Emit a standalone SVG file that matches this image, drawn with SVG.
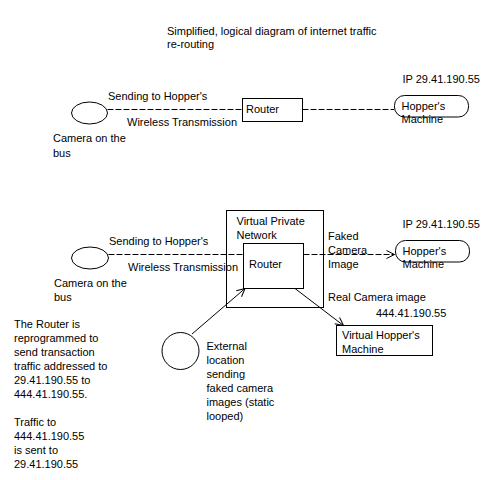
<svg xmlns="http://www.w3.org/2000/svg" width="500" height="480" viewBox="0 0 500 480">
<style>
text{font-family:"Liberation Sans",Arial,sans-serif;font-size:11px;fill:#000}
.s{fill:none;stroke:#000;stroke-width:1}
.d{fill:none;stroke:#000;stroke-width:1;stroke-dasharray:6 2}
</style>
<defs>
<marker id="a" markerWidth="10" markerHeight="10" refX="9" refY="5" orient="auto" markerUnits="userSpaceOnUse">
<path d="M1,1 L9,5 L1,9" fill="none" stroke="#000" stroke-width="1"/>
</marker>
</defs>
<rect width="500" height="480" fill="#fff"/>
<g id="title">
<text x="167" y="35">Simplified, logical diagram of internet traffic</text>
<text x="167" y="48">re-routing</text>
</g>
<g id="connectors">
<line class="d" x1="107.5" y1="109.5" x2="242.5" y2="109.5"/>
<line class="d" x1="302.5" y1="109.5" x2="394" y2="109.5"/>
<line class="d" x1="108.5" y1="254.5" x2="243.5" y2="254.5"/>
<line class="d" x1="303.5" y1="254.5" x2="394.5" y2="254.5" marker-end="url(#a)"/>
<line class="s" x1="295" y1="288.5" x2="343.5" y2="325.5" marker-end="url(#a)"/>
<line class="s" x1="192" y1="334" x2="245" y2="288.5" marker-end="url(#a)"/>
</g>
<g id="camera1">
<ellipse class="s" cx="89.5" cy="113" rx="18" ry="11"/>
<text x="53" y="142">Camera on the</text>
<text x="53" y="156.5">bus</text>
</g>
<g id="labels1">
<text x="108" y="100">Sending to Hopper's</text>
<text x="127" y="125.5">Wireless Transmission</text>
</g>
<g id="router1">
<rect class="s" x="242.5" y="98.5" width="60" height="23"/>
<text x="246" y="113">Router</text>
</g>
<g id="hopper1">
<text x="402.5" y="83">IP 29.41.190.55</text>
<rect class="s" x="394.5" y="95.5" width="74" height="21.5" rx="10" ry="10"/>
<text x="401.5" y="110">Hopper's</text>
<text x="401.5" y="123">Machine</text>
</g>
<g id="camera2">
<ellipse class="s" cx="90" cy="258" rx="18.5" ry="11"/>
<text x="54" y="287">Camera on the</text>
<text x="54" y="300.5">bus</text>
</g>
<g id="labels2">
<text x="109" y="245">Sending to Hopper's</text>
<text x="128" y="270.5">Wireless Transmission</text>
</g>
<g id="vpn">
<rect class="s" x="226.5" y="210.5" width="97" height="97"/>
<text x="236.5" y="225">Virtual Private</text>
<text x="236.5" y="238.5">Network</text>
</g>
<g id="router2">
<rect class="s" x="243.5" y="243.5" width="60" height="45"/>
<text x="249" y="268">Router</text>
</g>
<g id="faked">
<text x="328" y="240">Faked</text>
<text x="328" y="254">Camera</text>
<text x="328" y="268">Image</text>
</g>
<g id="hopper2">
<text x="402.5" y="228">IP 29.41.190.55</text>
<rect class="s" x="395.5" y="240.5" width="74" height="21.5" rx="10" ry="10"/>
<text x="402.5" y="255">Hopper's</text>
<text x="402.5" y="268">Machine</text>
</g>
<g id="real">
<text x="328" y="300.5">Real Camera image</text>
<text x="376" y="317">444.41.190.55</text>
</g>
<g id="virtualhopper">
<rect class="s" x="336.5" y="325.5" width="96" height="30"/>
<text x="342" y="339">Virtual Hopper's</text>
<text x="342" y="353">Machine</text>
</g>
<g id="external">
<circle class="s" cx="180.5" cy="351" r="18.5"/>
<text x="206.5" y="350">External</text>
<text x="206.5" y="364">location</text>
<text x="206.5" y="378">sending</text>
<text x="206.5" y="392">faked camera</text>
<text x="206.5" y="406">images (static</text>
<text x="206.5" y="420">looped)</text>
</g>
<g id="note">
<text x="14" y="328">The Router is</text>
<text x="14" y="342">reprogrammed to</text>
<text x="14" y="356">send transaction</text>
<text x="14" y="370">traffic addressed to</text>
<text x="14" y="384">29.41.190.55 to</text>
<text x="14" y="398">444.41.190.55.</text>
<text x="14" y="426">Traffic to</text>
<text x="14" y="440">444.41.190.55</text>
<text x="14" y="454">is sent to</text>
<text x="14" y="468">29.41.190.55</text>
</g>
</svg>
